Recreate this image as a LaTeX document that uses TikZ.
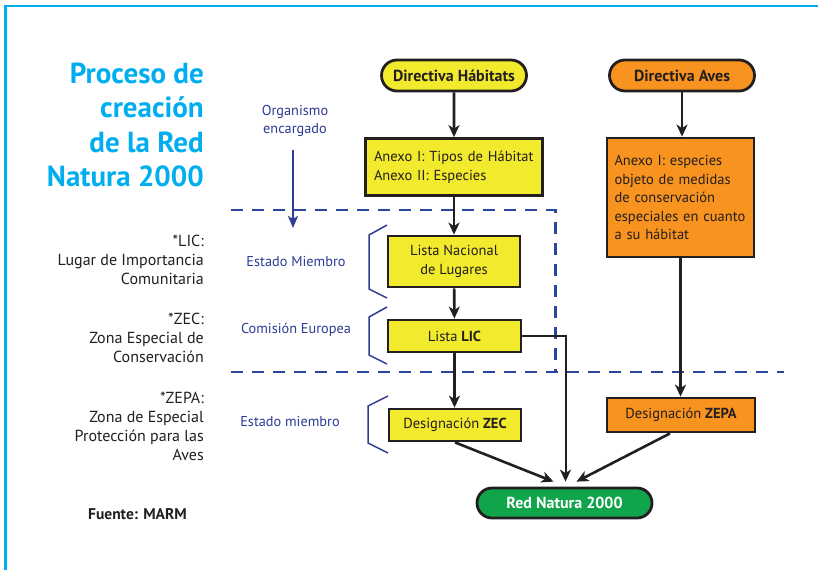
\documentclass[tikz,border=0pt]{standalone}
\usepackage{fontspec}
\setmainfont{PT Sans}
\usetikzlibrary{arrows.meta,shapes.misc}

\definecolor{titlecyan}{HTML}{00AEEF}
\definecolor{orgblue}{HTML}{2E3C94}
\definecolor{zoneblue}{HTML}{2B45A2}
\definecolor{habyellow}{HTML}{F2EA2C}
\definecolor{avesorange}{HTML}{F7931E}
\definecolor{rngreen}{HTML}{10A54A}
\definecolor{ink}{HTML}{231F20}

\begin{document}
\begin{tikzpicture}[
            x=1pt, y=-1pt,
            box/.style={draw=ink, line width=2.8pt, rectangle, text=ink, inner sep=3pt,
                font=\fontsize{14.5}{18.5}\selectfont},
            pill/.style={box, rounded rectangle, font=\fontsize{16}{18}\selectfont\bfseries},
            flow/.style={draw=ink, line width=2.6pt, -{Stealth[length=12pt,width=11pt,inset=3.5pt]}},
            orgarrow/.style={draw=orgblue, line width=2.5pt, -{Stealth[length=12pt,width=10pt,inset=3pt]}},
            bracket/.style={draw=orgblue, line width=1.5pt},
            zone/.style={draw=zoneblue, line width=2.7pt, dash pattern=on 12pt off 9pt},
            orglabel/.style={text=orgblue, font=\fontsize{14.3}{18}\selectfont, inner sep=0pt},
            note/.style={text=ink, align=right, inner sep=0pt, font=\fontsize{16}{19}\selectfont},
            ]
            \useasboundingbox (0,0) rectangle (818,570);
            \fill[white] (0,0) rectangle (818,570);
            \draw[titlecyan, line width=2.6pt] (5.5,570) -- (5.5,6) -- (818,6);

            \node[anchor=east, align=right, inner sep=0pt, text=titlecyan,
                font=\fontsize{29}{34.5}\selectfont\bfseries] (title) at (204,125)
                {Proceso de\\creación\\de la Red\\Natura 2000};

            % notas
            \node[note, anchor=east] (lic-note) at (204,260) {*LIC:\\Lugar de Importancia\\Comunitaria};
            \node[note, anchor=east] (zec-note) at (204,338) {*ZEC:\\Zona Especial de\\Conservación};
            \node[note, anchor=east] (zepa-note) at (204,426) {*ZEPA:\\Zona de Especial\\Protección para las\\Aves};
            \node[text=ink, inner sep=0pt, font=\fontsize{15.5}{17}\selectfont\bfseries] (fuente) at (137.5,514) {Fuente: MARM};

            \node[orglabel, align=center] (org) at (295,121) {Organismo\\encargado};
            \coordinate (org-top) at (293,150);
            \coordinate (org-end) at (293,228);
            \draw[orgarrow] (org-top) -- (org-end);
            \node[orglabel] (em1) at (296,262) {Estado Miembro};
            \node[orglabel] (ce) at (296,330) {Comisión Europea};
            \node[orglabel] (em2) at (290,422) {Estado miembro};

            \draw[zone] (231,210) -- (555.5,210) -- (555.5,372);
            \draw[zone] (231,372) -- (784,372);

            \draw[bracket] (387,225) -- (369,235) -- (369,289) -- (387,298);
            \draw[bracket] (387,307) -- (369,317) -- (369,355) -- (387,364);
            \draw[bracket] (388,396) -- (368,406) -- (368,443) -- (388,453);

            \node[pill, fill=habyellow, minimum width=151pt, minimum height=31pt] (hab) at (454,75.5) {Directiva Hábitats};
            \node[pill, fill=avesorange, minimum width=151pt, minimum height=31pt] (aves) at (682,75.5) {Directiva Aves};
            \node[box, fill=habyellow, minimum width=177pt, minimum height=57pt, inner xsep=8.5pt,
                text width=160pt, align=left] (anexo-hab) at (454,167)
                {Anexo I: Tipos de Hábitat\\Anexo II: Especies};
            \node[box, fill=avesorange, minimum width=147pt, minimum height=119pt, inner xsep=7.5pt,
                text width=132pt, align=left] (anexo-aves) at (680.5,197.5)
                {Anexo I: especies\\objeto de medidas\\de conservación\\especiales en cuanto\\a su hábitat};
            \node[box, fill=habyellow, minimum width=132pt, minimum height=51pt, align=center] (nacional) at (454,261.5)
                {Lista Nacional\\de Lugares};
            \node[box, fill=habyellow, minimum width=133pt, minimum height=32pt] (lic) at (454.5,336) {Lista \textbf{LIC}};
            \node[box, fill=habyellow, minimum width=132pt, minimum height=32pt] (zec) at (455,425) {Designación \textbf{ZEC}};
            \node[box, fill=avesorange, minimum width=148pt, minimum height=34pt] (zepa) at (681,415) {Designación \textbf{ZEPA}};
            \node[pill, fill=rngreen, text=white, minimum width=181pt, minimum height=30pt] (red) at (564.5,503) {Red Natura 2000};

            \draw[flow] (hab) -- (anexo-hab);
            \draw[flow] (aves.south) -- (aves.south |- anexo-aves.north);
            \draw[flow] (anexo-hab) -- (nacional);
            \draw[flow] (nacional) -- (lic);
            \draw[flow] (lic.south) -- (lic.south |- zec.north);
            \draw[flow] (anexo-aves.south) -- (anexo-aves.south |- zepa.north);
            \draw[flow] (zec.south) -- ([shift={(-11,-5)}]red.north);
            \draw[flow] ([xshift=-11pt]zepa.south) -- ([shift={(12,-5)}]red.north);
            \draw[flow, line width=2pt] (lic.east) -| ([shift={(1,-5)}]red.north);
        \end{tikzpicture}
\end{document}
